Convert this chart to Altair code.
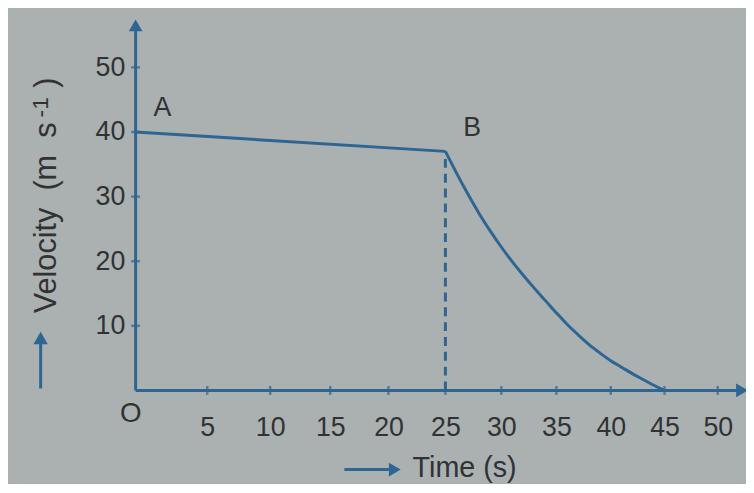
import altair as alt
import pandas as pd

# ---- data ----
seg_t = [0, 25]
seg_v = [40, 37]
curve_t = [25, 26, 27, 28, 29, 30, 31, 32, 33, 34, 35, 36, 37, 38, 39, 40, 41, 42, 43, 44, 45]
curve_v = [37, 33.6, 30.4, 27.4, 24.7, 22.2, 19.9, 17.8, 15.8, 13.9, 12.0, 10.2, 8.6, 7.1, 5.8,
           4.6, 3.6, 2.6, 1.7, 0.8, 0]
x_ticks = [5, 10, 15, 20, 25, 30, 35, 40, 45, 50]
y_ticks = [10, 20, 30, 40, 50]
pt_names = ["A", "B"]
pt_t = [0, 25]
pt_v = [40, 37]
X_MAX = 52.3
Y_MAX = 56.5

BLUE = "#2d6692"
INK = "#303234"
BG = "#abb0b0"
FONT = "Liberation Sans"
NB = "\u00a0"

W, H = 613, 369

seg_df = pd.DataFrame({"t": seg_t, "v": seg_v})
curve_df = pd.DataFrame({"t": curve_t, "v": curve_v})
xt_df = pd.DataFrame({"t": x_ticks, "v": [0] * len(x_ticks)})
yt_df = pd.DataFrame({"t": [0] * len(y_ticks), "v": y_ticks})
pt_df = pd.DataFrame({"name": pt_names, "t": pt_t, "v": pt_v})
dash_df = pd.DataFrame({"t": [25], "v": [0], "v2": [37]})
xaxis_df = pd.DataFrame({"t": [0], "t2": [X_MAX], "v": [0]})
yaxis_df = pd.DataFrame({"t": [0], "v": [0], "v2": [Y_MAX]})
one = pd.DataFrame({"k": [0]})

xs = alt.Scale(type="pow", exponent=0.91, domain=[0, X_MAX], nice=False, zero=True)
ys = alt.Scale(domain=[0, Y_MAX], nice=False)

x_axis = alt.Axis(values=x_ticks, title=None, grid=False, domain=False, ticks=False,
                  labelFontSize=27, labelFont=FONT, labelColor=INK, labelPadding=25,
                  labelFlush=False)
y_axis = alt.Axis(values=y_ticks, title=None, grid=False, domain=False, ticks=False,
                  labelFontSize=27, labelFont=FONT, labelColor=INK, labelPadding=11)

# axes lines
xaxis_line = alt.Chart(xaxis_df).mark_rule(color=BLUE, strokeWidth=3).encode(
    x=alt.X("t:Q", scale=xs, axis=x_axis), x2="t2:Q",
    y=alt.Y("v:Q", scale=ys, axis=y_axis))
yaxis_line = alt.Chart(yaxis_df).mark_rule(color=BLUE, strokeWidth=3).encode(
    x=alt.X("t:Q", scale=xs), y=alt.Y("v:Q", scale=ys), y2="v2:Q")

x_heads = alt.Chart(pd.DataFrame({"t": [X_MAX], "v": [0]})).mark_point(
    shape="triangle-right", filled=True, size=190, color=BLUE, opacity=1).encode(
    x=alt.X("t:Q", scale=xs), y=alt.Y("v:Q", scale=ys))
y_heads = alt.Chart(pd.DataFrame({"t": [0], "v": [Y_MAX]})).mark_point(
    shape="triangle-up", filled=True, size=190, color=BLUE, opacity=1).encode(
    x=alt.X("t:Q", scale=xs), y=alt.Y("v:Q", scale=ys))

xticks = alt.Chart(xt_df).mark_tick(orient="vertical", color=BLUE, size=9, thickness=2.5).encode(
    x=alt.X("t:Q", scale=xs), y=alt.Y("v:Q", scale=ys))
yticks = alt.Chart(yt_df).mark_tick(orient="horizontal", color=BLUE, size=9, thickness=2.5).encode(
    x=alt.X("t:Q", scale=xs), y=alt.Y("v:Q", scale=ys))

seg = alt.Chart(seg_df).mark_line(color=BLUE, strokeWidth=3).encode(
    x=alt.X("t:Q", scale=xs), y=alt.Y("v:Q", scale=ys))
curve = alt.Chart(curve_df).mark_line(color=BLUE, strokeWidth=3, interpolate="monotone").encode(
    x=alt.X("t:Q", scale=xs), y=alt.Y("v:Q", scale=ys))
dash = alt.Chart(dash_df).mark_rule(color=BLUE, strokeWidth=3, strokeDash=[9, 6]).encode(
    x=alt.X("t:Q", scale=xs), y=alt.Y("v:Q", scale=ys), y2="v2:Q")

labels = alt.Chart(pt_df).mark_text(font=FONT, fontSize=27, color=INK, dx=27, dy=-24).encode(
    x=alt.X("t:Q", scale=xs), y=alt.Y("v:Q", scale=ys), text="name:N")

origin = alt.Chart(pd.DataFrame({"t": [0], "v": [0], "s": ["O"]})).mark_text(
    font=FONT, fontSize=28, color=INK, dx=-5, dy=24).encode(
    x=alt.X("t:Q", scale=xs), y=alt.Y("v:Q", scale=ys), text="s:N")

# titles with arrows
x_title = alt.Chart(one).mark_text(font=FONT, fontSize=29, color=INK, align="left",
                                   baseline="middle", text="Time (s)").encode(
    x=alt.value(280), y=alt.value(447))
x_arrow = alt.Chart(one).mark_rule(color=BLUE, strokeWidth=3).encode(
    x=alt.value(211), x2=alt.value(256), y=alt.value(449))
x_arrow_head = alt.Chart(one).mark_point(shape="triangle-right", filled=True, size=190,
                                         color=BLUE, opacity=1).encode(
    x=alt.value(262), y=alt.value(449))

y_title_main = alt.Chart(one).mark_text(font=FONT, fontSize=31, color=INK, angle=270,
                                        align="left", baseline="alphabetic",
                                        text="Velocity" + NB + NB + "(m" + NB + NB + "s").encode(
    x=alt.value(-80), y=alt.value(291))
y_title_sup = alt.Chart(one).mark_text(font=FONT, fontSize=23, color=INK, angle=270,
                                       align="left", baseline="alphabetic",
                                       text="-1").encode(
    x=alt.value(-89), y=alt.value(93))
y_title_end = alt.Chart(one).mark_text(font=FONT, fontSize=31, color=INK, angle=270,
                                       align="left", baseline="alphabetic",
                                       text=")").encode(
    x=alt.value(-80), y=alt.value(63))
y_arrow = alt.Chart(one).mark_rule(color=BLUE, strokeWidth=3).encode(
    x=alt.value(-96), y=alt.value(367), y2=alt.value(322))
y_arrow_head = alt.Chart(one).mark_point(shape="triangle-up", filled=True, size=210,
                                         color=BLUE, opacity=1).encode(
    x=alt.value(-96), y=alt.value(316))

chart = alt.layer(
    xaxis_line, yaxis_line, x_heads, y_heads, xticks, yticks,
    dash, seg, curve, labels, origin,
    x_title, x_arrow, x_arrow_head,
    y_title_main, y_title_sup, y_title_end, y_arrow, y_arrow_head,
).properties(
    width=W, height=H,
    autosize=alt.AutoSizeParams(type="none"),
    padding={"left": 129, "top": 15, "right": 4, "bottom": 92},
).configure(background=BG).configure_view(stroke=None)

chart.save("out.html", embed_options={"renderer": "svg", "actions": False})
